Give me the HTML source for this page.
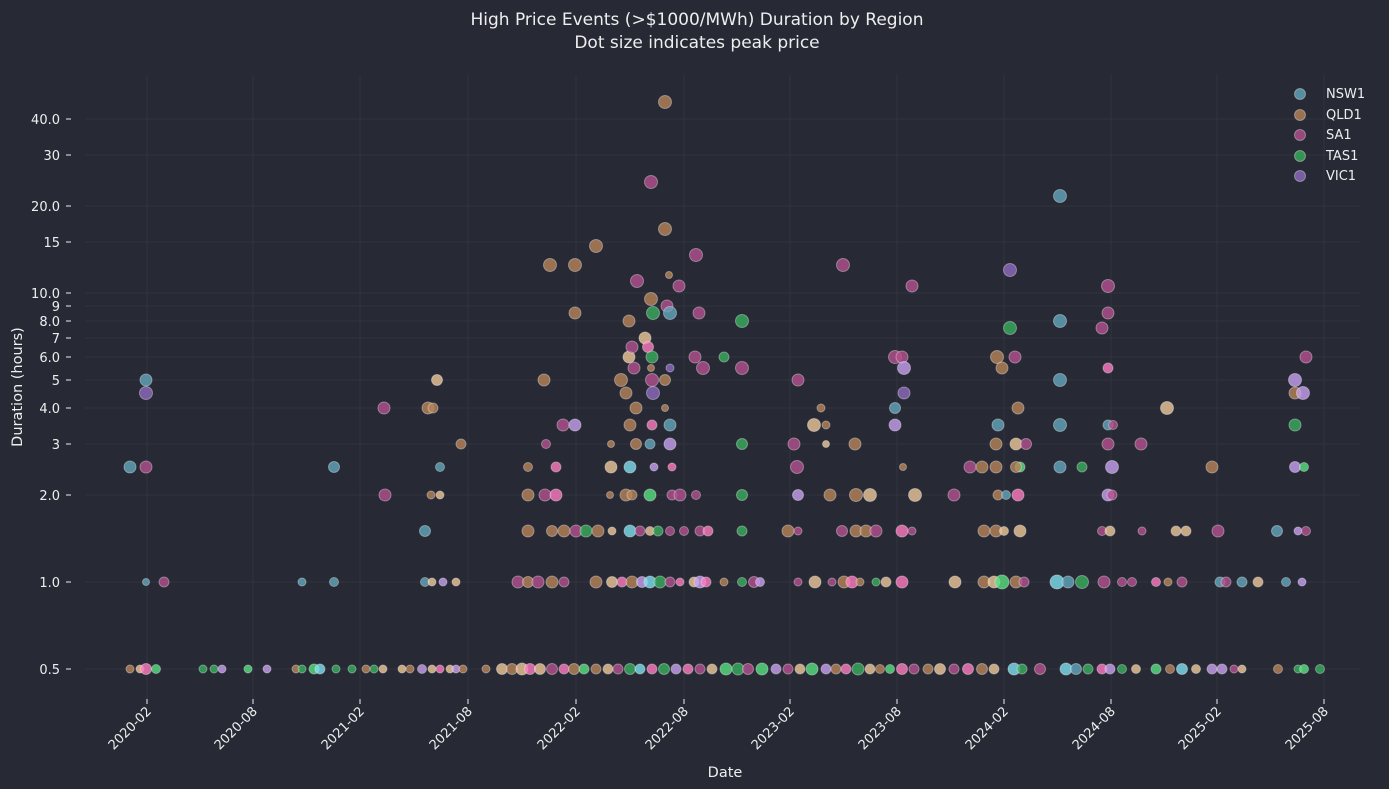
<!DOCTYPE html>
<html><head><meta charset="utf-8"><style>
body{margin:0;background:#272a35;}
svg{display:block;font-family:"DejaVu Sans","Liberation Sans",sans-serif;}
.n{fill:#63a6bb}.q{fill:#b8855a}.s{fill:#b4508f}.t{fill:#3aae5e}.v{fill:#8e6cc0}
.l{fill:#f0c89a}.p{fill:#ff7ac0}.c{fill:#7fe0f0}.g{fill:#58e080}.u{fill:#c8a0f0}
circle{fill-opacity:.8;stroke:#fff;stroke-opacity:.35;stroke-width:1}
.tk{fill:#eee;font-size:13px}
.gr{stroke:#30333f;stroke-width:1}
</style></head><body>
<svg width="1389" height="789" viewBox="0 0 1389 789">
<rect width="1389" height="789" fill="#272a35"/>
<text x="697" y="25" text-anchor="middle" fill="#eee" font-size="17">High Price Events (&gt;$1000/MWh) Duration by Region</text>
<text x="697" y="48" text-anchor="middle" fill="#eee" font-size="17">Dot size indicates peak price</text>
<g class="gr">
<line x1="85" x2="1360" y1="119" y2="119"/><line x1="85" x2="1360" y1="155" y2="155"/><line x1="85" x2="1360" y1="206" y2="206"/><line x1="85" x2="1360" y1="242" y2="242"/><line x1="85" x2="1360" y1="293" y2="293"/><line x1="85" x2="1360" y1="306" y2="306"/><line x1="85" x2="1360" y1="321" y2="321"/><line x1="85" x2="1360" y1="338" y2="338"/><line x1="85" x2="1360" y1="357" y2="357"/><line x1="85" x2="1360" y1="380" y2="380"/><line x1="85" x2="1360" y1="408" y2="408"/><line x1="85" x2="1360" y1="444" y2="444"/><line x1="85" x2="1360" y1="495" y2="495"/><line x1="85" x2="1360" y1="582" y2="582"/><line x1="85" x2="1360" y1="669" y2="669"/>
<line y1="75" y2="700" x1="147" x2="147"/><line y1="75" y2="700" x1="253" x2="253"/><line y1="75" y2="700" x1="360" x2="360"/><line y1="75" y2="700" x1="468" x2="468"/><line y1="75" y2="700" x1="576" x2="576"/><line y1="75" y2="700" x1="684" x2="684"/><line y1="75" y2="700" x1="790" x2="790"/><line y1="75" y2="700" x1="897" x2="897"/><line y1="75" y2="700" x1="1004" x2="1004"/><line y1="75" y2="700" x1="1111" x2="1111"/><line y1="75" y2="700" x1="1217" x2="1217"/><line y1="75" y2="700" x1="1324" x2="1324"/>
</g>
<g class="tk" text-anchor="end">
<text x="60" y="124">40.0</text><text x="60" y="160">30</text><text x="60" y="211">20.0</text><text x="60" y="247">15</text><text x="60" y="298">10.0</text><text x="60" y="311">9</text><text x="60" y="326">8.0</text><text x="60" y="343">7</text><text x="60" y="362">6.0</text><text x="60" y="385">5</text><text x="60" y="413">4.0</text><text x="60" y="449">3</text><text x="60" y="500">2.0</text><text x="60" y="587">1.0</text><text x="60" y="674">0.5</text>
</g>
<g stroke="#eee" stroke-width="1">
<line x1="66" x2="71" y1="119" y2="119"/><line x1="66" x2="71" y1="155" y2="155"/><line x1="66" x2="71" y1="206" y2="206"/><line x1="66" x2="71" y1="242" y2="242"/><line x1="66" x2="71" y1="293" y2="293"/><line x1="66" x2="71" y1="306" y2="306"/><line x1="66" x2="71" y1="321" y2="321"/><line x1="66" x2="71" y1="338" y2="338"/><line x1="66" x2="71" y1="357" y2="357"/><line x1="66" x2="71" y1="380" y2="380"/><line x1="66" x2="71" y1="408" y2="408"/><line x1="66" x2="71" y1="444" y2="444"/><line x1="66" x2="71" y1="495" y2="495"/><line x1="66" x2="71" y1="582" y2="582"/><line x1="66" x2="71" y1="669" y2="669"/>
<line y1="699" y2="704" x1="147" x2="147"/><line y1="699" y2="704" x1="253" x2="253"/><line y1="699" y2="704" x1="360" x2="360"/><line y1="699" y2="704" x1="468" x2="468"/><line y1="699" y2="704" x1="576" x2="576"/><line y1="699" y2="704" x1="684" x2="684"/><line y1="699" y2="704" x1="790" x2="790"/><line y1="699" y2="704" x1="897" x2="897"/><line y1="699" y2="704" x1="1004" x2="1004"/><line y1="699" y2="704" x1="1111" x2="1111"/><line y1="699" y2="704" x1="1217" x2="1217"/><line y1="699" y2="704" x1="1324" x2="1324"/>
</g>
<g class="tk" text-anchor="end">
<text transform="translate(152,712) rotate(-45)">2020-02</text><text transform="translate(258,712) rotate(-45)">2020-08</text><text transform="translate(365,712) rotate(-45)">2021-02</text><text transform="translate(473,712) rotate(-45)">2021-08</text><text transform="translate(581,712) rotate(-45)">2022-02</text><text transform="translate(689,712) rotate(-45)">2022-08</text><text transform="translate(795,712) rotate(-45)">2023-02</text><text transform="translate(902,712) rotate(-45)">2023-08</text><text transform="translate(1009,712) rotate(-45)">2024-02</text><text transform="translate(1116,712) rotate(-45)">2024-08</text><text transform="translate(1222,712) rotate(-45)">2025-02</text><text transform="translate(1329,712) rotate(-45)">2025-08</text>
</g>
<text x="725" y="777" text-anchor="middle" fill="#eee" font-size="14.5">Date</text>
<text transform="translate(22,387) rotate(-90)" text-anchor="middle" fill="#eee" font-size="14.5">Duration (hours)</text>
<g font-size="13" fill="#eee">
<circle class="n" cx="1300" cy="94" r="5.5"/><text x="1326" y="98">NSW1</text>
<circle class="q" cx="1300" cy="115" r="5.5"/><text x="1326" y="119">QLD1</text>
<circle class="s" cx="1300" cy="135" r="5.5"/><text x="1326" y="139">SA1</text>
<circle class="t" cx="1300" cy="156" r="5.5"/><text x="1326" y="160">TAS1</text>
<circle class="v" cx="1300" cy="176" r="5.5"/><text x="1326" y="180">VIC1</text>
</g>
<g>
<circle class="q" cx="130" cy="669" r="4"/><circle class="l" cx="140" cy="669" r="4"/><circle class="p" cx="146" cy="669" r="5.5"/><circle class="g" cx="156" cy="669" r="4.5"/>
<circle class="t" cx="203" cy="669" r="4"/><circle class="t" cx="214" cy="669" r="4"/><circle class="u" cx="222" cy="669" r="4"/><circle class="g" cx="248" cy="669" r="4"/><circle class="u" cx="267" cy="669" r="4"/>
<circle class="q" cx="296" cy="669" r="4"/><circle class="t" cx="302" cy="669" r="4"/><circle class="g" cx="314" cy="669" r="5"/><circle class="c" cx="320" cy="669" r="5"/><circle class="t" cx="336" cy="669" r="4"/><circle class="t" cx="352" cy="669" r="4"/><circle class="q" cx="366" cy="669" r="4"/><circle class="t" cx="374" cy="669" r="4"/><circle class="l" cx="383" cy="669" r="4"/>
<circle class="l" cx="402" cy="669" r="4"/><circle class="q" cx="410" cy="669" r="4"/><circle class="u" cx="422" cy="669" r="4.5"/><circle class="l" cx="432" cy="669" r="4"/><circle class="p" cx="440" cy="669" r="4"/><circle class="l" cx="450" cy="669" r="4"/><circle class="u" cx="456" cy="669" r="4"/><circle class="q" cx="463" cy="669" r="4"/>
<circle class="q" cx="486" cy="669" r="4"/><circle class="l" cx="502" cy="669" r="5.5"/><circle class="q" cx="512" cy="669" r="5.5"/><circle class="l" cx="522" cy="669" r="6"/><circle class="p" cx="530" cy="669" r="5.5"/><circle class="l" cx="540" cy="669" r="5.5"/><circle class="s" cx="552" cy="669" r="5.5"/><circle class="p" cx="564" cy="669" r="5"/><circle class="q" cx="574" cy="669" r="5.5"/><circle class="g" cx="584" cy="669" r="5"/><circle class="q" cx="596" cy="669" r="5"/><circle class="l" cx="608" cy="669" r="5"/><circle class="s" cx="618" cy="669" r="5"/><circle class="t" cx="630" cy="669" r="5.5"/><circle class="c" cx="640" cy="669" r="5"/><circle class="p" cx="652" cy="669" r="5"/><circle class="t" cx="664" cy="669" r="5.5"/><circle class="u" cx="676" cy="669" r="5"/><circle class="p" cx="688" cy="669" r="5"/><circle class="s" cx="700" cy="669" r="5"/><circle class="l" cx="712" cy="669" r="5"/><circle class="g" cx="726" cy="669" r="6"/><circle class="t" cx="738" cy="669" r="6"/><circle class="s" cx="748" cy="669" r="5.5"/><circle class="g" cx="762" cy="669" r="6"/><circle class="u" cx="776" cy="669" r="5"/>
<circle class="s" cx="788" cy="669" r="5"/><circle class="l" cx="800" cy="669" r="5"/><circle class="g" cx="812" cy="669" r="6"/><circle class="u" cx="826" cy="669" r="5"/><circle class="q" cx="836" cy="669" r="5"/><circle class="p" cx="846" cy="669" r="5"/><circle class="t" cx="858" cy="669" r="6"/><circle class="l" cx="870" cy="669" r="5"/><circle class="q" cx="880" cy="669" r="4.5"/><circle class="g" cx="890" cy="669" r="4.5"/><circle class="p" cx="902" cy="669" r="5.5"/><circle class="s" cx="914" cy="669" r="5"/><circle class="q" cx="928" cy="669" r="5"/><circle class="l" cx="940" cy="669" r="5.5"/><circle class="s" cx="954" cy="669" r="5"/><circle class="p" cx="968" cy="669" r="5.5"/><circle class="q" cx="982" cy="669" r="5.5"/><circle class="l" cx="994" cy="669" r="5"/><circle class="c" cx="1014" cy="669" r="6"/><circle class="t" cx="1022" cy="669" r="5"/><circle class="s" cx="1040" cy="669" r="5.5"/>
<circle class="c" cx="1066" cy="669" r="6"/><circle class="n" cx="1076" cy="669" r="5.5"/><circle class="t" cx="1088" cy="669" r="5"/><circle class="p" cx="1102" cy="669" r="5"/><circle class="u" cx="1110" cy="669" r="5"/><circle class="t" cx="1122" cy="669" r="4.5"/><circle class="l" cx="1136" cy="669" r="4.5"/><circle class="g" cx="1156" cy="669" r="5"/><circle class="q" cx="1170" cy="669" r="4.5"/><circle class="c" cx="1182" cy="669" r="5.5"/><circle class="l" cx="1196" cy="669" r="4.5"/><circle class="u" cx="1212" cy="669" r="5"/><circle class="u" cx="1222" cy="669" r="5"/><circle class="s" cx="1234" cy="669" r="4"/><circle class="l" cx="1242" cy="669" r="4"/><circle class="q" cx="1278" cy="669" r="4.5"/><circle class="t" cx="1298" cy="669" r="4"/><circle class="g" cx="1304" cy="669" r="4.5"/><circle class="t" cx="1320" cy="669" r="4.5"/>
</g>
<g>
<circle class="n" cx="146" cy="582" r="3.5"/><circle class="s" cx="164" cy="582" r="5"/><circle class="n" cx="302" cy="582" r="4"/><circle class="n" cx="334" cy="582" r="4.5"/>
<circle class="n" cx="425" cy="582" r="4.5"/><circle class="l" cx="432" cy="582" r="4"/><circle class="u" cx="443" cy="582" r="4"/><circle class="l" cx="456" cy="582" r="4"/>
<circle class="s" cx="518" cy="582" r="6"/><circle class="q" cx="528" cy="582" r="5.5"/><circle class="s" cx="538" cy="582" r="6"/><circle class="q" cx="552" cy="582" r="6"/><circle class="s" cx="564" cy="582" r="5"/><circle class="q" cx="596" cy="582" r="6"/><circle class="l" cx="612" cy="582" r="5.5"/><circle class="p" cx="622" cy="582" r="5"/><circle class="q" cx="632" cy="582" r="6"/><circle class="u" cx="642" cy="582" r="5.5"/><circle class="c" cx="650" cy="582" r="6"/><circle class="t" cx="660" cy="582" r="6"/><circle class="s" cx="670" cy="582" r="5"/><circle class="p" cx="680" cy="582" r="4"/><circle class="l" cx="694" cy="582" r="5"/><circle class="u" cx="700" cy="582" r="6"/><circle class="p" cx="706" cy="582" r="5"/><circle class="q" cx="724" cy="582" r="4"/><circle class="t" cx="742" cy="582" r="4.5"/><circle class="s" cx="754" cy="582" r="5.5"/><circle class="u" cx="760" cy="582" r="4.5"/>
<circle class="s" cx="798" cy="582" r="4"/><circle class="l" cx="815" cy="582" r="6"/><circle class="s" cx="832" cy="582" r="4"/><circle class="q" cx="844" cy="582" r="6"/><circle class="p" cx="852" cy="582" r="6"/><circle class="q" cx="860" cy="582" r="4"/><circle class="t" cx="876" cy="582" r="4"/><circle class="l" cx="886" cy="582" r="5"/><circle class="p" cx="902" cy="582" r="6"/><circle class="l" cx="955" cy="582" r="6"/><circle class="q" cx="984" cy="582" r="6"/><circle class="l" cx="994" cy="582" r="6"/><circle class="g" cx="1002" cy="582" r="7"/><circle class="q" cx="1016" cy="582" r="6"/><circle class="s" cx="1024" cy="582" r="5"/>
<circle class="c" cx="1057" cy="582" r="7"/><circle class="n" cx="1068" cy="582" r="6"/><circle class="t" cx="1082" cy="582" r="6.5"/><circle class="s" cx="1104" cy="582" r="6"/><circle class="s" cx="1122" cy="582" r="4.5"/><circle class="s" cx="1132" cy="582" r="4.5"/><circle class="p" cx="1156" cy="582" r="4.5"/><circle class="q" cx="1168" cy="582" r="4"/><circle class="s" cx="1182" cy="582" r="5"/><circle class="n" cx="1220" cy="582" r="5"/><circle class="s" cx="1226" cy="582" r="5"/><circle class="n" cx="1242" cy="582" r="5"/><circle class="l" cx="1258" cy="582" r="5"/><circle class="n" cx="1286" cy="582" r="4.5"/><circle class="u" cx="1302" cy="582" r="4"/>
</g>
<g>
<circle class="n" cx="425" cy="531" r="5.5"/><circle class="q" cx="528" cy="531" r="6"/><circle class="q" cx="552" cy="531" r="5.5"/><circle class="q" cx="564" cy="531" r="6"/><circle class="s" cx="576" cy="531" r="6"/><circle class="t" cx="586" cy="531" r="6"/><circle class="q" cx="598" cy="531" r="6"/><circle class="l" cx="612" cy="531" r="4"/><circle class="c" cx="630" cy="531" r="6"/><circle class="s" cx="640" cy="531" r="5"/><circle class="l" cx="650" cy="531" r="4.5"/><circle class="t" cx="658" cy="531" r="5"/><circle class="s" cx="670" cy="531" r="4.5"/><circle class="s" cx="684" cy="531" r="4.5"/><circle class="s" cx="700" cy="531" r="5"/><circle class="p" cx="708" cy="531" r="5"/><circle class="t" cx="742" cy="531" r="5"/><circle class="q" cx="788" cy="531" r="6"/><circle class="s" cx="798" cy="531" r="4"/><circle class="s" cx="842" cy="531" r="5.5"/><circle class="q" cx="856" cy="531" r="6"/><circle class="q" cx="866" cy="531" r="6"/><circle class="s" cx="876" cy="531" r="6"/><circle class="p" cx="902" cy="531" r="6"/><circle class="s" cx="912" cy="531" r="4"/><circle class="q" cx="984" cy="531" r="6"/><circle class="q" cx="996" cy="531" r="6"/><circle class="l" cx="1004" cy="531" r="4.5"/><circle class="l" cx="1020" cy="531" r="6"/><circle class="s" cx="1102" cy="531" r="4.5"/><circle class="l" cx="1110" cy="531" r="5"/><circle class="s" cx="1142" cy="531" r="4"/><circle class="l" cx="1176" cy="531" r="5"/><circle class="l" cx="1186" cy="531" r="5"/><circle class="s" cx="1218" cy="531" r="6"/><circle class="n" cx="1277" cy="531" r="5.5"/><circle class="u" cx="1298" cy="531" r="4"/><circle class="s" cx="1306" cy="531" r="4.5"/>
</g>
<g>
<circle class="s" cx="385" cy="495" r="6"/><circle class="q" cx="431" cy="495" r="4"/><circle class="l" cx="440" cy="495" r="4"/><circle class="q" cx="528" cy="495" r="6"/><circle class="s" cx="545" cy="495" r="6"/><circle class="p" cx="556" cy="495" r="6"/><circle class="q" cx="610" cy="495" r="3.5"/><circle class="q" cx="626" cy="495" r="6"/><circle class="q" cx="632" cy="495" r="5"/><circle class="g" cx="650" cy="495" r="6"/><circle class="s" cx="672" cy="495" r="5"/><circle class="s" cx="680" cy="495" r="6"/><circle class="s" cx="696" cy="495" r="4.5"/><circle class="t" cx="742" cy="495" r="5.5"/><circle class="u" cx="798" cy="495" r="5.5"/><circle class="q" cx="830" cy="495" r="6"/><circle class="q" cx="856" cy="495" r="6.5"/><circle class="l" cx="870" cy="495" r="6.5"/><circle class="l" cx="915" cy="495" r="6.5"/><circle class="s" cx="954" cy="495" r="6"/><circle class="q" cx="998" cy="495" r="5"/><circle class="n" cx="1006" cy="495" r="4.5"/><circle class="p" cx="1018" cy="495" r="6"/><circle class="u" cx="1108" cy="495" r="6"/><circle class="s" cx="1112" cy="495" r="5"/>
</g>
<g>
<circle class="n" cx="130" cy="467" r="6"/><circle class="s" cx="146" cy="467" r="6"/><circle class="n" cx="146" cy="380" r="6"/><circle class="v" cx="146" cy="393" r="6.5"/>
<circle class="n" cx="334" cy="467" r="5.5"/><circle class="s" cx="384" cy="408" r="6"/><circle class="q" cx="428" cy="408" r="6"/><circle class="q" cx="433" cy="408" r="5"/><circle class="l" cx="437" cy="380" r="5.5"/><circle class="n" cx="440" cy="467" r="4.5"/><circle class="q" cx="461" cy="444" r="5"/>
<circle class="q" cx="528" cy="467" r="4.5"/><circle class="s" cx="546" cy="444" r="4.5"/><circle class="q" cx="544" cy="380" r="6"/><circle class="p" cx="556" cy="467" r="5"/><circle class="s" cx="563" cy="425" r="6"/><circle class="u" cx="575" cy="425" r="6"/><circle class="q" cx="575" cy="313" r="6"/><circle class="q" cx="550" cy="265" r="6.5"/><circle class="q" cx="575" cy="265" r="6.5"/><circle class="q" cx="596" cy="246" r="6.5"/>
<circle class="l" cx="611" cy="467" r="6"/><circle class="q" cx="611" cy="444" r="3.5"/><circle class="q" cx="621" cy="380" r="6.5"/><circle class="q" cx="626" cy="393" r="6"/><circle class="q" cx="629" cy="321" r="6"/><circle class="l" cx="629" cy="357" r="6"/><circle class="s" cx="632" cy="347" r="6"/><circle class="s" cx="634" cy="368" r="6"/><circle class="q" cx="630" cy="425" r="6"/><circle class="q" cx="636" cy="408" r="6"/><circle class="c" cx="630" cy="467" r="6"/><circle class="q" cx="636" cy="444" r="5.5"/><circle class="s" cx="637" cy="281" r="6.5"/><circle class="l" cx="645" cy="338" r="6"/><circle class="p" cx="648" cy="347" r="5.5"/><circle class="t" cx="652" cy="357" r="6"/><circle class="q" cx="651" cy="299" r="6.5"/><circle class="n" cx="650" cy="444" r="5"/><circle class="s" cx="652" cy="380" r="6.5"/><circle class="v" cx="653" cy="393" r="6.5"/><circle class="s" cx="651" cy="182" r="6.5"/><circle class="t" cx="653" cy="313" r="6.5"/><circle class="q" cx="651" cy="368" r="3.5"/><circle class="p" cx="652" cy="425" r="5"/><circle class="u" cx="654" cy="467" r="4"/><circle class="q" cx="665" cy="380" r="5.5"/><circle class="q" cx="665" cy="229" r="6.5"/><circle class="q" cx="665" cy="102" r="6.5"/><circle class="s" cx="667" cy="306" r="6"/><circle class="q" cx="669" cy="275" r="3.5"/><circle class="q" cx="665" cy="408" r="3.5"/><circle class="n" cx="670" cy="313" r="6.5"/><circle class="v" cx="670" cy="368" r="4"/><circle class="n" cx="670" cy="425" r="6"/><circle class="u" cx="670" cy="444" r="6"/><circle class="p" cx="672" cy="467" r="4"/><circle class="s" cx="679" cy="286" r="6"/>
<circle class="s" cx="695" cy="357" r="6"/><circle class="s" cx="696" cy="255" r="6.5"/><circle class="s" cx="699" cy="313" r="6"/><circle class="s" cx="703" cy="368" r="6.5"/><circle class="t" cx="724" cy="357" r="5"/><circle class="t" cx="742" cy="321" r="6.5"/><circle class="s" cx="742" cy="368" r="6.5"/><circle class="t" cx="742" cy="444" r="5.5"/>
<circle class="s" cx="794" cy="444" r="6"/><circle class="s" cx="797" cy="467" r="6.5"/><circle class="s" cx="798" cy="380" r="6"/><circle class="l" cx="814" cy="425" r="6.5"/><circle class="q" cx="821" cy="408" r="4"/><circle class="q" cx="826" cy="425" r="4"/><circle class="l" cx="826" cy="444" r="3.5"/><circle class="s" cx="843" cy="265" r="6.5"/><circle class="q" cx="855" cy="444" r="6"/><circle class="n" cx="895" cy="408" r="5.5"/><circle class="s" cx="895" cy="357" r="6.5"/><circle class="s" cx="902" cy="357" r="6"/><circle class="u" cx="904" cy="368" r="6.5"/><circle class="v" cx="904" cy="393" r="6"/><circle class="u" cx="895" cy="425" r="6"/><circle class="q" cx="903" cy="467" r="3.5"/><circle class="s" cx="912" cy="286" r="6"/>
<circle class="s" cx="970" cy="467" r="6"/><circle class="q" cx="982" cy="467" r="6"/><circle class="q" cx="996" cy="467" r="6"/><circle class="q" cx="996" cy="444" r="6"/><circle class="q" cx="997" cy="357" r="6.5"/><circle class="q" cx="1002" cy="368" r="6"/><circle class="n" cx="998" cy="425" r="6"/><circle class="t" cx="1010" cy="328" r="6.5"/><circle class="v" cx="1010" cy="270" r="6.5"/><circle class="s" cx="1015" cy="357" r="6"/><circle class="q" cx="1018" cy="408" r="6"/><circle class="l" cx="1016" cy="444" r="6"/><circle class="g" cx="1020" cy="467" r="5"/><circle class="q" cx="1016" cy="467" r="5.5"/><circle class="s" cx="1026" cy="444" r="5.5"/>
<circle class="n" cx="1060" cy="196" r="6.5"/><circle class="n" cx="1060" cy="321" r="6.5"/><circle class="n" cx="1060" cy="380" r="6.5"/><circle class="n" cx="1060" cy="425" r="6.5"/><circle class="n" cx="1060" cy="467" r="6"/><circle class="t" cx="1082" cy="467" r="5"/><circle class="s" cx="1102" cy="328" r="6"/><circle class="s" cx="1108" cy="286" r="6.5"/><circle class="s" cx="1108" cy="313" r="6"/><circle class="p" cx="1108" cy="368" r="5"/><circle class="s" cx="1108" cy="444" r="6"/><circle class="n" cx="1108" cy="425" r="5"/><circle class="u" cx="1112" cy="467" r="6.5"/><circle class="s" cx="1113" cy="425" r="4.5"/><circle class="s" cx="1141" cy="444" r="6"/><circle class="l" cx="1167" cy="408" r="6.5"/><circle class="q" cx="1212" cy="467" r="6"/>
<circle class="u" cx="1295" cy="380" r="6.5"/><circle class="q" cx="1295" cy="393" r="6"/><circle class="u" cx="1303" cy="393" r="6.5"/><circle class="t" cx="1295" cy="425" r="6"/><circle class="u" cx="1295" cy="467" r="5.5"/><circle class="g" cx="1304" cy="467" r="4.5"/><circle class="s" cx="1306" cy="357" r="6"/>
</g>
</svg>
</body></html>
